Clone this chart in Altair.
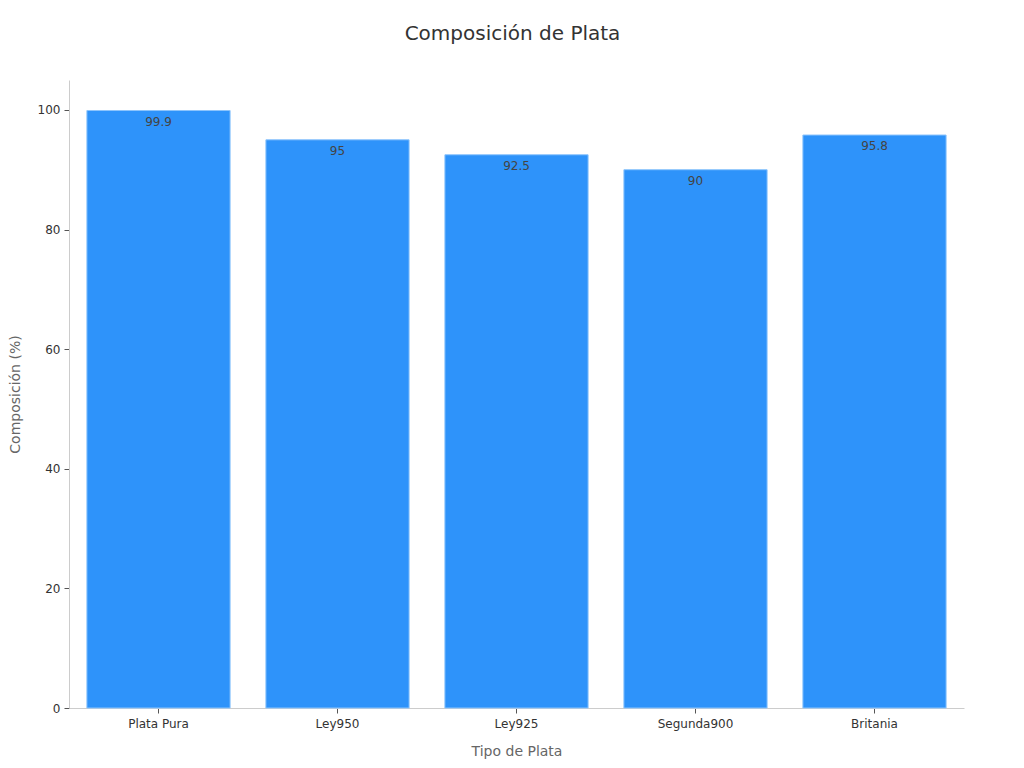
import altair as alt
import pandas as pd

categorias = ["Plata Pura", "Ley950", "Ley925", "Segunda900", "Britania"]
composicion = [99.9, 95, 92.5, 90, 95.8]

df = pd.DataFrame({"Tipo de Plata": categorias, "Composición (%)": composicion})

FONT = "DejaVu Sans"

base = alt.Chart(df).encode(
    x=alt.X("Tipo de Plata:N", sort=categorias,
            scale=alt.Scale(paddingInner=0.2, paddingOuter=0.1),
            axis=alt.Axis(labelAngle=0, title="Tipo de Plata", titlePadding=15, labelPadding=5)),
    y=alt.Y("Composición (%):Q", scale=alt.Scale(domain=[0, 105], nice=False),
            axis=alt.Axis(values=[0, 20, 40, 60, 80, 100], title="Composición (%)",
                          grid=False, titlePadding=15)),
)

bars = base.mark_bar(color="#2E93FA", stroke="#8CC4FC", strokeWidth=1)
labels = base.mark_text(baseline="top", dy=6, fontSize=12, color="#444444", font=FONT).encode(
    text=alt.Text("Composición (%):Q")
)

chart = (bars + labels).properties(
    width=895, height=628,
    title=alt.Title("Composición de Plata", fontSize=20, fontWeight="normal", color="#333333",
                    font=FONT, offset=36, dx=-4),
    padding={"left": 0, "top": 16, "right": 10, "bottom": 5},
).configure_view(stroke=None).configure_axis(
    domainColor="#cccccc", tickColor="#555555", labelColor="#333333", labelFontSize=12,
    labelFont=FONT, titleFont=FONT, titleFontSize=14, titleColor="#666666",
    titleFontWeight="normal", tickSize=5, labelPadding=4,
)

chart.save("out.html", embed_options={"renderer": "svg", "actions": False})
